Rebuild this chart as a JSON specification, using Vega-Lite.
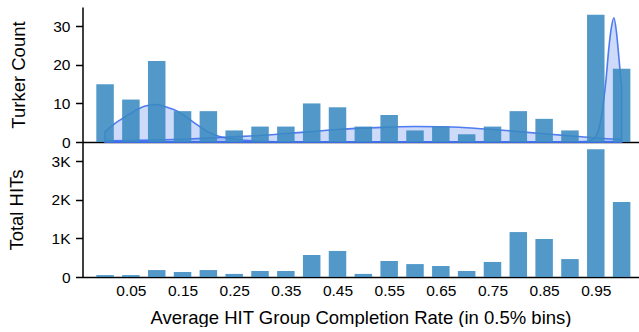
{
  "$schema": "https://vega.github.io/schema/vega-lite/v6.json",
  "padding": {"left": 7.5, "top": 7, "right": 0, "bottom": 0},
  "spacing": 0,
  "bounds": "flush",
  "config": {
    "view": {"stroke": null},
    "font": "Liberation Sans",
    "axis": {
      "grid": false,
      "domainColor": "black",
      "domainWidth": 1.5,
      "tickColor": "black",
      "tickWidth": 1.5,
      "tickSize": 7,
      "labelColor": "black",
      "labelFontSize": 15.5,
      "titleColor": "black",
      "titleFontSize": 18.5,
      "titleFontWeight": "normal"
    }
  },
  "datasets": {
    "bins": [
      {"rate": 0.00, "turkers": 15, "hits": 50},
      {"rate": 0.05, "turkers": 11, "hits": 50},
      {"rate": 0.10, "turkers": 21, "hits": 180},
      {"rate": 0.15, "turkers": 8, "hits": 130},
      {"rate": 0.20, "turkers": 8, "hits": 180},
      {"rate": 0.25, "turkers": 3, "hits": 80},
      {"rate": 0.30, "turkers": 4, "hits": 155},
      {"rate": 0.35, "turkers": 4, "hits": 155},
      {"rate": 0.40, "turkers": 10, "hits": 570},
      {"rate": 0.45, "turkers": 9, "hits": 675},
      {"rate": 0.50, "turkers": 4, "hits": 80},
      {"rate": 0.55, "turkers": 7, "hits": 415},
      {"rate": 0.60, "turkers": 3, "hits": 335},
      {"rate": 0.65, "turkers": 4, "hits": 285},
      {"rate": 0.70, "turkers": 2, "hits": 155},
      {"rate": 0.75, "turkers": 4, "hits": 390},
      {"rate": 0.80, "turkers": 8, "hits": 1165},
      {"rate": 0.85, "turkers": 6, "hits": 985},
      {"rate": 0.90, "turkers": 3, "hits": 465},
      {"rate": 0.95, "turkers": 33, "hits": 3315},
      {"rate": 1.00, "turkers": 19, "hits": 1945}
    ],
    "curves": [
      {"component": "low", "rate": 0.00, "density": 2.7},
      {"component": "low", "rate": 0.02, "density": 4.9},
      {"component": "low", "rate": 0.04, "density": 6.6},
      {"component": "low", "rate": 0.06, "density": 8.3},
      {"component": "low", "rate": 0.08, "density": 9.4},
      {"component": "low", "rate": 0.10, "density": 9.7},
      {"component": "low", "rate": 0.12, "density": 9.0},
      {"component": "low", "rate": 0.14, "density": 8.0},
      {"component": "low", "rate": 0.16, "density": 6.2},
      {"component": "low", "rate": 0.18, "density": 4.3},
      {"component": "low", "rate": 0.20, "density": 2.6},
      {"component": "low", "rate": 0.22, "density": 1.5},
      {"component": "low", "rate": 0.24, "density": 0.95},
      {"component": "low", "rate": 0.26, "density": 0.6},
      {"component": "low", "rate": 0.28, "density": 0.35},
      {"component": "low", "rate": 0.30, "density": 0.2},
      {"component": "low", "rate": 0.35, "density": 0.06},
      {"component": "low", "rate": 0.40, "density": 0.02},
      {"component": "low", "rate": 0.50, "density": 0},
      {"component": "low", "rate": 0.75, "density": 0},
      {"component": "low", "rate": 1.00, "density": 0},
      {"component": "mid", "rate": 0.00, "density": 0.3},
      {"component": "mid", "rate": 0.05, "density": 0.4},
      {"component": "mid", "rate": 0.10, "density": 0.5},
      {"component": "mid", "rate": 0.15, "density": 0.7},
      {"component": "mid", "rate": 0.20, "density": 1.0},
      {"component": "mid", "rate": 0.25, "density": 1.35},
      {"component": "mid", "rate": 0.30, "density": 1.7},
      {"component": "mid", "rate": 0.35, "density": 2.2},
      {"component": "mid", "rate": 0.40, "density": 2.7},
      {"component": "mid", "rate": 0.45, "density": 3.25},
      {"component": "mid", "rate": 0.50, "density": 3.6},
      {"component": "mid", "rate": 0.55, "density": 3.85},
      {"component": "mid", "rate": 0.60, "density": 4.0},
      {"component": "mid", "rate": 0.65, "density": 3.95},
      {"component": "mid", "rate": 0.70, "density": 3.7},
      {"component": "mid", "rate": 0.75, "density": 3.25},
      {"component": "mid", "rate": 0.80, "density": 2.7},
      {"component": "mid", "rate": 0.85, "density": 2.15},
      {"component": "mid", "rate": 0.90, "density": 1.6},
      {"component": "mid", "rate": 0.95, "density": 1.05},
      {"component": "mid", "rate": 1.00, "density": 0.7},
      {"component": "high", "rate": 0.00, "density": 0},
      {"component": "high", "rate": 0.50, "density": 0},
      {"component": "high", "rate": 0.90, "density": 0},
      {"component": "high", "rate": 0.93, "density": 0.1},
      {"component": "high", "rate": 0.94, "density": 0.35},
      {"component": "high", "rate": 0.945, "density": 0.8},
      {"component": "high", "rate": 0.95, "density": 1.5},
      {"component": "high", "rate": 0.955, "density": 3.0},
      {"component": "high", "rate": 0.96, "density": 6.0},
      {"component": "high", "rate": 0.965, "density": 10.5},
      {"component": "high", "rate": 0.97, "density": 16.5},
      {"component": "high", "rate": 0.975, "density": 24.0},
      {"component": "high", "rate": 0.98, "density": 29.5},
      {"component": "high", "rate": 0.985, "density": 32.2},
      {"component": "high", "rate": 0.99, "density": 28.5},
      {"component": "high", "rate": 0.995, "density": 21.5},
      {"component": "high", "rate": 1.00, "density": 14.0}
    ]
  },
  "vconcat": [
    {
      "width": 556,
      "height": 135,
      "layer": [
        {
          "data": {"name": "curves"},
          "mark": {
            "type": "area",
            "orient": "vertical",
            "interpolate": "monotone",
            "fill": "#4676ec",
            "fillOpacity": 0.27,
            "stroke": "#3f6ff0",
            "strokeWidth": 1.6,
            "strokeOpacity": 0.9
          },
          "encoding": {
            "x": {
              "field": "rate",
              "type": "quantitative",
              "scale": {"domain": [-0.034, 1.023], "nice": false, "zero": false},
              "axis": {"title": null, "labels": false, "ticks": false, "domain": true}
            },
            "y": {
              "field": "density",
              "type": "quantitative",
              "stack": null,
              "scale": {"domain": [0, 35], "nice": false},
              "axis": {"title": "Turker Count", "values": [0, 10, 20, 30], "labelPadding": 5.5, "titlePadding": 24.5}
            },
            "detail": {"field": "component", "type": "nominal"}
          }
        },
        {
          "data": {"name": "bins"},
          "mark": {"type": "bar", "width": 17.5, "color": "#3a8ac0", "opacity": 0.88},
          "encoding": {
            "x": {
              "field": "rate",
              "type": "quantitative",
              "scale": {"domain": [-0.034, 1.023], "nice": false, "zero": false},
              "axis": {"title": null, "labels": false, "ticks": false, "domain": true}
            },
            "y": {
              "field": "turkers",
              "type": "quantitative",
              "scale": {"domain": [0, 35], "nice": false},
              "axis": {"title": "Turker Count", "values": [0, 10, 20, 30], "labelPadding": 5.5, "titlePadding": 24.5}
            }
          }
        }
      ]
    },
    {
      "width": 556,
      "height": 135,
      "data": {"name": "bins"},
      "mark": {"type": "bar", "width": 17.5, "color": "#3a8ac0", "opacity": 0.88},
      "encoding": {
        "x": {
          "field": "rate",
          "type": "quantitative",
          "scale": {"domain": [-0.034, 1.023], "nice": false, "zero": false},
          "axis": {
            "title": "Average HIT Group Completion Rate (in 0.5% bins)",
            "values": [0.05, 0.15, 0.25, 0.35, 0.45, 0.55, 0.65, 0.75, 0.85, 0.95],
            "format": ".2f",
            "ticks": false,
            "tickSize": 0,
            "labelPadding": 6.6,
            "titlePadding": 9,
            "labelFlush": false
          }
        },
        "y": {
          "field": "hits",
          "type": "quantitative",
          "scale": {"domain": [0, 3500], "nice": false},
          "axis": {
            "title": "Total HITs",
            "values": [0, 1000, 2000, 3000],
            "labelExpr": "datum.value === 0 ? '0' : (datum.value / 1000) + 'K'",
            "labelPadding": 5.5,
            "titlePadding": 24.5
          }
        }
      }
    }
  ]
}
